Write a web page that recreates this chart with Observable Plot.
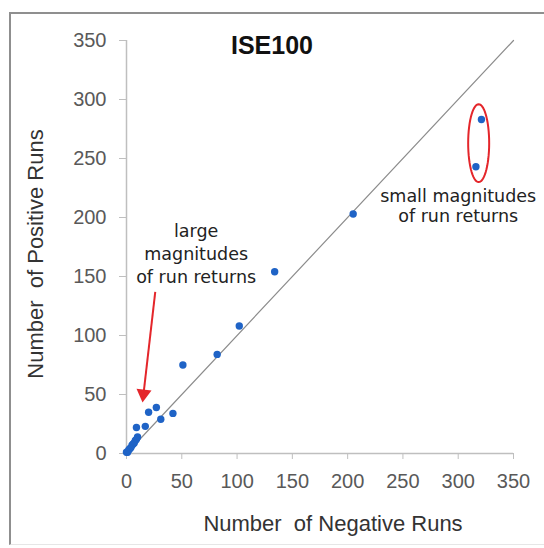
<!DOCTYPE html>
<html>
<head>
<meta charset="utf-8">
<script src="https://cdn.jsdelivr.net/npm/d3@7"></script>
<script src="https://cdn.jsdelivr.net/npm/@observablehq/plot@0.6"></script>
<style>
  html, body { margin: 0; padding: 0; background: #fff; }
  #wrap { position: relative; width: 544px; height: 548px; overflow: hidden; }
  #frame { position: absolute; left: 9px; top: 12px; width: 540px; height: 533px;
           border-top: 2px solid #8f8f8f; border-left: 2px solid #8f8f8f;
           border-bottom: 1px solid #e6e6e6; box-sizing: border-box; }
  #wrap svg { position: absolute; left: 0; top: 0; }
</style>
</head>
<body>
<div id="wrap"><div id="frame"></div></div>
<script>
// Data
const negativeRuns = [321, 316, 205, 134, 102, 82, 51, 27, 20, 42, 31, 17, 9, 10, 9, 8, 7, 6, 5, 4, 3, 2, 1, 0];
const positiveRuns = [283, 243, 203, 154, 108, 84, 75, 39, 35, 34, 29, 23, 22, 14, 12, 11, 9, 8, 7, 5, 4, 3, 1, 1];
const xTicks = [0, 50, 100, 150, 200, 250, 300, 350];
const yTicks = [0, 50, 100, 150, 200, 250, 300, 350];
const diagonal = [0, 350];
const circledIdx = [0, 1];               // "small magnitudes" points
const arrowFrom = [26, 137];             // annotation arrow (data units)
const arrowTo = [15.4, 50.5];

const points = negativeRuns.map((x, i) => ({x, y: positiveRuns[i]}));
const diag = diagonal.map(v => ({x: v, y: v}));

// ellipse around the circled points
const cp = circledIdx.map(i => points[i]);
const cx = d3.mean(cp, d => d.x), cy = d3.mean(cp, d => d.y);
const ry = (d3.max(cp, d => d.y) - d3.min(cp, d => d.y)) / 2 + 13;
const rx = 9.5;
const ellipse = d3.range(0, 361, 6).map(a => {
  const t = a * Math.PI / 180;
  return {x: cx + rx * Math.cos(t), y: cy + ry * Math.sin(t)};
});

const red = "#e4262b";
const annoFont = "DejaVu Sans, sans-serif";

const chart = Plot.plot({
  width: 544,
  height: 548,
  marginLeft: 126,
  marginRight: 31,
  marginTop: 40,
  marginBottom: 95,
  style: {fontFamily: "Liberation Sans, Arial, sans-serif", background: "transparent", overflow: "visible"},
  x: {domain: [0, 350]},
  y: {domain: [0, 350]},
  marks: [
    Plot.axisX({ticks: xTicks, tickSize: 6, tickPadding: 14, fontSize: 20, label: null,
                stroke: "#bfbfbf", fill: "#595959"}),
    Plot.axisY({ticks: yTicks, tickSize: 7, tickPadding: 13, fontSize: 20, label: null,
                stroke: "#bfbfbf", fill: "#595959"}),
    Plot.ruleY([0], {stroke: "#bfbfbf", strokeWidth: 1.5}),
    Plot.ruleX([0], {stroke: "#bfbfbf", strokeWidth: 1.5}),
    Plot.line(diag, {x: "x", y: "y", stroke: "#8c8c8c", strokeWidth: 1.2}),
    Plot.dot(points, {x: "x", y: "y", r: 3.7, fill: "#1f63c6"}),
    Plot.line(ellipse, {x: "x", y: "y", stroke: red, strokeWidth: 2}),
    Plot.link([0], {x1: () => arrowFrom[0], y1: () => arrowFrom[1], x2: () => arrowTo[0], y2: () => arrowTo[1],
                    stroke: red, strokeWidth: 2}),
    Plot.dot([0], {x: () => arrowTo[0], y: () => arrowTo[1], symbol: "triangle", r: 5.6, fill: red,
                   rotate: 186.7}),
    Plot.text(["large\nmagnitudes\nof run returns"], {x: () => 63, y: () => 170, fontSize: 17.5,
              lineHeight: 1.31, fontFamily: annoFont, fill: "#222"}),
    Plot.text(["small magnitudes\nof run returns"], {x: () => 300, y: () => 210, fontSize: 17.5,
              lineHeight: 1.15, fontFamily: annoFont, fill: "#222"}),
    Plot.text(["ISE100"], {frameAnchor: "top", dx: -48, dy: 5, lineAnchor: "middle", fontSize: 25,
              fontWeight: "bold", fill: "#111"}),
    Plot.text(["Number\u00a0 of Negative Runs"], {frameAnchor: "bottom", dx: 13, dy: 70, lineAnchor: "middle",
              fontSize: 22, fill: "#333"}),
    Plot.text(["Number\u00a0 of Positive Runs"], {frameAnchor: "left", dx: -91, dy: 7, rotate: -90,
              textAnchor: "middle", lineAnchor: "middle", fontSize: 22, fill: "#333"})
  ]
});
document.getElementById("wrap").appendChild(chart);
</script>
</body>
</html>
